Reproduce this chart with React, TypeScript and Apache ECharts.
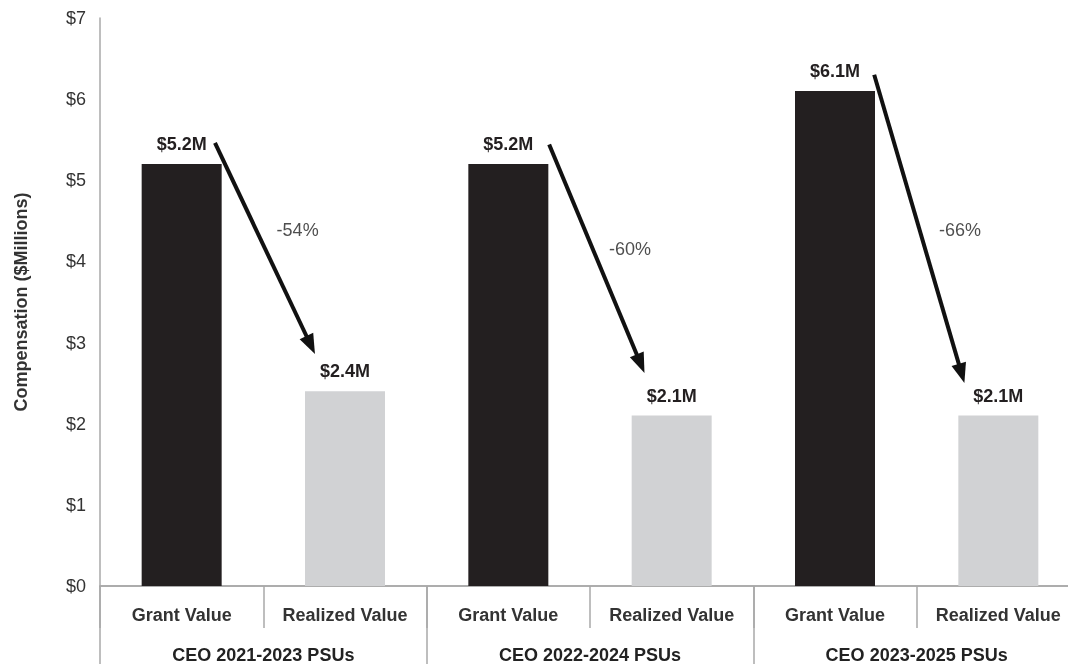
import React, { useEffect, useRef } from "react";
import * as echarts from "echarts";

const categories = ["Grant Value", "Realized Value", "Grant Value", "Realized Value", "Grant Value", "Realized Value"];
const groups = ["CEO 2021-2023 PSUs", "CEO 2022-2024 PSUs", "CEO 2023-2025 PSUs"];
const values = [5.2, 2.4, 5.2, 2.1, 6.1, 2.1];
const yTicks = [0, 1, 2, 3, 4, 5, 6, 7];
// arrows in (category-position, $M) coordinates
const arrowStarts = [[0.704, 5.46], [2.75, 5.44], [4.74, 6.3]];
const arrowEnds = [[1.29, 2.97], [3.31, 2.74], [5.275, 2.62]];
const pctLabels = ["-54%", "-60%", "-66%"];
const pctPositions = [[1.21, 4.39], [3.245, 4.15], [5.266, 4.39]];

const DARK = "#231f20";
const LIGHT = "#d1d2d4";
const FONT = "'Liberation Sans', Arial, sans-serif";

export default function App() {
  const ref = useRef<HTMLDivElement>(null);
  useEffect(() => {
    if (!ref.current) return;
    const chart = echarts.init(ref.current, null, { renderer: "svg" });
    const axisGray = "#a8a8a8";
    chart.setOption({
      animation: false,
      textStyle: { fontFamily: FONT },
      grid: { left: 100, right: -12, top: 18, bottom: 78, containLabel: false, outerBoundsMode: "none" },
      xAxis: [
        {
          type: "category",
          data: categories,
          position: "bottom",
          axisLine: { show: true, lineStyle: { color: axisGray, width: 1.5 } },
          axisTick: { show: true, interval: 0, length: 42, lineStyle: { color: axisGray, width: 1.5 } },
          axisLabel: { interval: 0, margin: 20, fontSize: 18, fontWeight: "bold", color: "#333333", fontFamily: FONT },
        },
        {
          type: "category",
          data: groups,
          position: "bottom",
          axisLine: { show: true, lineStyle: { color: axisGray, width: 1.5 } },
          axisTick: { show: true, interval: 0, length: 80, lineStyle: { color: axisGray, width: 1.5 } },
          axisLabel: { interval: 0, margin: 60, fontSize: 18, fontWeight: "bold", color: "#222222", fontFamily: FONT },
        },
        {
          type: "value",
          min: 0,
          max: 6,
          show: false,
        },
      ],
      yAxis: {
        type: "value",
        min: 0,
        max: 7,
        interval: 1,
        name: "Compensation ($Millions)",
        nameLocation: "middle",
        nameGap: 70,
        nameRotate: 90,
        nameTextStyle: { fontSize: 18, fontWeight: "bold", color: "#333333", fontFamily: FONT },
        axisLine: { show: true, lineStyle: { color: axisGray, width: 1.5 } },
        axisTick: { show: false },
        splitLine: { show: false },
        axisLabel: {
          margin: 14,
          fontSize: 18,
          color: "#333333",
          fontFamily: FONT,
          formatter: (v: number) => (yTicks.includes(v) ? `$${v}` : ""),
        },
      },
      series: [
        {
          type: "bar",
          xAxisIndex: 0,
          barWidth: 80,
          data: values.map((v, i) => ({ value: v, itemStyle: { color: i % 2 === 0 ? DARK : LIGHT } })),
          label: {
            show: true,
            position: "top",
            distance: 11,
            fontSize: 18,
            fontWeight: "bold",
            color: DARK,
            fontFamily: FONT,
            formatter: (p: any) => `$${p.value}M`,
          },
        },
        {
          type: "scatter",
          xAxisIndex: 2,
          symbolSize: 0,
          data: pctPositions.map((p, i) => ({ value: [p[0], p[1]], name: pctLabels[i] })),
          label: {
            show: true,
            position: "inside",
            fontSize: 18,
            color: "#222222",
            fontFamily: FONT,
            formatter: (p: any) => p.name,
          },
          markLine: {
            silent: true,
            symbol: ["none", "triangle"],
            symbolSize: [15, 20],
            label: { show: false },
            lineStyle: { color: "#111111", width: 4, type: "solid" },
            data: arrowStarts.map((s, i) => [
              { coord: s },
              { coord: arrowEnds[i] },
            ]),
          },
        },
      ],
    });
    return () => chart.dispose();
  }, []);
  return <div ref={ref} style={{ position: "fixed", left: 0, top: 0, width: 1068, height: 664 }} />;
}
